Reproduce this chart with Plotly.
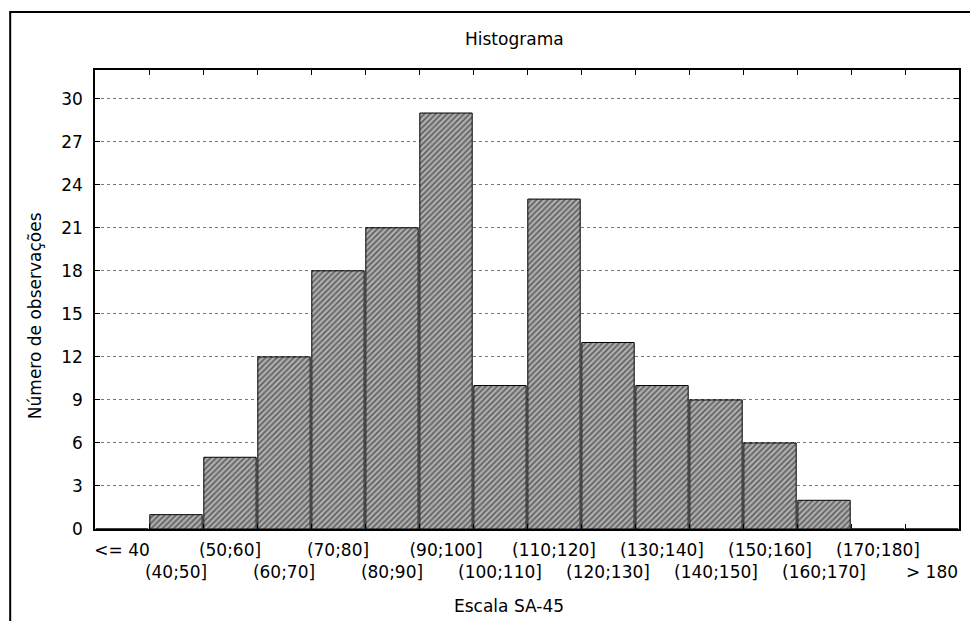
import plotly.graph_objects as go

categories = ["<= 40", "(40;50]", "(50;60]", "(60;70]", "(70;80]", "(80;90]",
              "(90;100]", "(100;110]", "(110;120]", "(120;130]", "(130;140]",
              "(140;150]", "(150;160]", "(160;170]", "(170;180]", "> 180"]
counts = [0, 1, 5, 12, 18, 21, 29, 10, 23, 13, 10, 9, 6, 2, 0, 0]
y_ticks = [0, 3, 6, 9, 12, 15, 18, 21, 24, 27, 30]

# alternate label rows (odd labels on the second line)
tick_text = [c if i % 2 == 0 else "<br>" + c for i, c in enumerate(categories)]

FONT = "DejaVu Sans"
FS = 17
OFF = 8  # page offset of the figure inside the window
W, H = 978 - 2 * OFF, 629 - 2 * OFF
# target plot area in window pixels: x 95..961, y 70..529
L = 95 - OFF
T = 70 - OFF
R = W - (961 - OFF)
B = H - (529 - OFF)
pw, ph = W - L - R, H - T - B

def px2x(px):
    return (px - OFF - L) / pw

def py2y(py):
    return (H - B - (py - OFF)) / ph

fig = go.Figure()
fig.add_trace(go.Bar(
    x=categories, y=counts,
    marker=dict(
        color="#a0a0a0",
        line=dict(color="black", width=1),
        pattern=dict(shape="/", fgcolor="#111111", bgcolor="#b0b0b0",
                     size=4, solidity=0.45),
    ),
    showlegend=False,
))

lab = dict(xref="paper", yref="paper", showarrow=False,
           xanchor="center", yanchor="middle", font=dict(family=FONT, size=FS))

fig.update_layout(
    width=W, height=H,
    margin=dict(l=L, r=R, t=T, b=B, pad=0),
    paper_bgcolor="white", plot_bgcolor="white",
    font=dict(family=FONT, size=FS, color="black"),
    bargap=0.03,
    xaxis=dict(
        type="category", range=[-0.5, 15.5],
        tickmode="array", tickvals=categories, ticktext=tick_text,
        tickangle=0, tickson="boundaries",
        ticks="inside", ticklen=5, tickcolor="black",
        showline=True, linecolor="black", linewidth=1.5, mirror="ticks",
        showgrid=False, ticklabelstandoff=5,
        tickfont=dict(family=FONT, size=FS),
    ),
    yaxis=dict(
        range=[0, 32], tickmode="array", tickvals=y_ticks,
        ticks="inside", ticklen=5, tickcolor="black",
        showline=True, linecolor="black", linewidth=1.5, mirror="ticks",
        showgrid=True, gridcolor="#777777", griddash="dot", gridwidth=1,
        zeroline=False, ticklabelstandoff=7,
        tickfont=dict(family=FONT, size=FS),
    ),
    annotations=[
        dict(text="Histograma", x=px2x(515), y=py2y(39), **lab),
        dict(text="Escala SA-45", x=px2x(510), y=py2y(606), **lab),
        dict(text="Número de observações", x=px2x(35), y=py2y(316), textangle=-90, **lab),
    ],
    shapes=[
        dict(type="rect", xref="paper", yref="paper",
             x0=px2x(10), x1=px2x(1000), y0=py2y(700), y1=py2y(12),
             line=dict(color="black", width=2), layer="below"),
    ],
)

fig.write_html("out.html")
